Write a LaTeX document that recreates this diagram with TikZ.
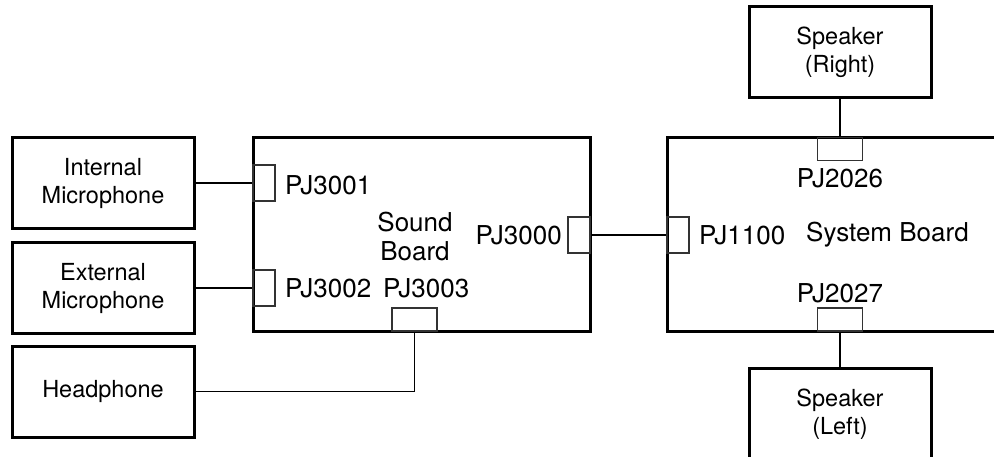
\documentclass[tikz,border=0pt]{standalone}
\usepackage{fontspec}
\setmainfont{TeX Gyre Heros}
\usetikzlibrary{positioning}
\tikzset{>=latex}
\tikzset{
  part/.style={draw, line width=3pt, minimum width=182pt, minimum height=91pt,
    align=center, inner sep=0pt, font=\fontsize{23.5}{28}\selectfont},
  board/.style={draw, line width=3pt, minimum height=193pt, inner sep=0pt},
  jack/.style={draw=black!80, line width=1.2pt, inner sep=0pt},
  vjack/.style={jack, minimum width=22pt, minimum height=36pt},
  hjack/.style={jack, minimum width=45pt, minimum height=23pt},
  lbl/.style={inner sep=0pt, font=\fontsize{26}{29}\selectfont},
  wire/.style={line width=1.2pt}
}

\begin{document}
\begin{tikzpicture}[x=1pt, y=-1pt]
  \clip (0,0) rectangle (994,457);
  \fill[white] (0,0) rectangle (994,457);
  % boards
  \node[board, minimum width=337pt] (sound) at (421.5,234.5) {};
  \node[board, minimum width=400pt] (system) at (867,234.5) {};
  % parts
  \node[part] (intmic) at (103,183) {Internal\\Microphone};
  \node[part] (extmic) at (103,288) {External\\Microphone};
  \node[part] (phone) at (103,391.5) {Headphone};
  \node[part] (spkright) at (840,52.5) {Speaker\\(Right)};
  \node[part, minimum height=93pt] (spkleft) at (840,414.5) {Speaker\\(Left)};
  % jacks
  \foreach \name/\x/\y in {j3001/264/183, j3002/264/288, j3000/579/235, j1100/678/235}
  {
    \node[vjack] (\name) at (\x,\y) {};
  }
  \foreach \name/\x/\y in {j3003/414.5/319.5, j2026/840/149, j2027/840/319.5}
  {
    \node[hjack] (\name) at (\x,\y) {};
  }
  % labels
  \node[lbl, anchor=west] (t3001) at (285,185.5) {PJ3001};
  \node[lbl, anchor=west] (t3002) at (285,288) {PJ3002};
  \node[lbl, anchor=west] (t3003) at (383,288) {PJ3003};
  \node[lbl, anchor=east] (t3000) at (562,235) {PJ3000};
  \node[lbl, align=center] (tsound) at (415,236.5) {Sound\\Board};
  \node[lbl, anchor=west] (t1100) at (699,235) {PJ1100};
  \node[lbl, anchor=west] (tsystem) at (806,235) {System Board};
  \node[lbl] (t2026) at (840,178) {PJ2026};
  \node[lbl] (t2027) at (840,293) {PJ2027};
  % wires
  \draw[wire] (intmic.east) -- (j3001.west);
  \draw[wire] (extmic.east) -- (j3002.west);
  \draw[wire] (j3003.south) |- (phone.east);
  \draw[wire] (j3000.east) -- (j1100.west);
  \draw[wire] (spkright.south) -- (j2026.north);
  \draw[wire] (j2027.south) -- (spkleft.north);
\end{tikzpicture}
\end{document}
